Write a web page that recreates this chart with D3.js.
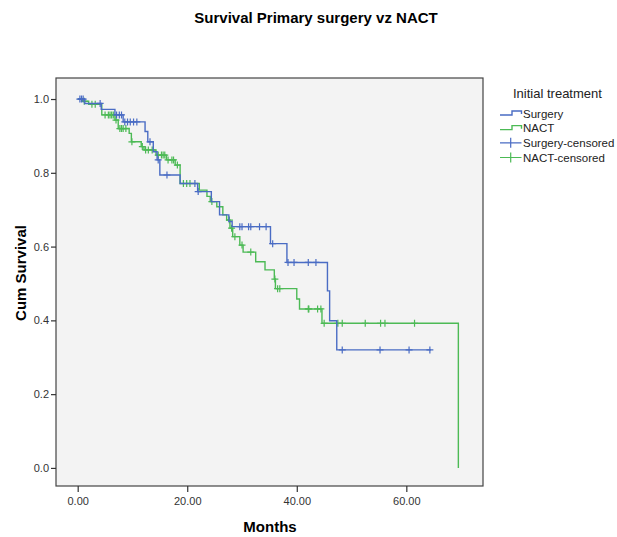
<!DOCTYPE html>
<html>
<head>
<meta charset="utf-8">
<script src="https://cdn.jsdelivr.net/npm/d3@7"></script>
<style>
  body { margin: 0; background: #fff; }
  svg { display: block; font-family: Arial, "Liberation Sans", sans-serif; }
</style>
</head>
<body>
<svg id="chart" width="617" height="537"></svg>
<script>
// Kaplan-Meier steps: [months, survival after the drop]
const surgeryEvents = [
  [1.3, 0.988], [4.3, 0.972], [6.8, 0.957], [8.3, 0.938], [12.3, 0.912],
  [12.8, 0.884], [13.8, 0.857], [14.5, 0.835], [15.0, 0.794], [18.7, 0.771],
  [21.9, 0.749], [24.4, 0.722], [25.9, 0.686], [27.6, 0.668], [28.2, 0.654],
  [35.2, 0.608], [38.2, 0.557], [45.6, 0.48], [46.0, 0.399], [47.3, 0.32]
];
const surgeryEnd = 64.5;
const surgeryCensored = [
  [0.4, 1], [0.7, 1], [1.0, 1], [4.1, 0.988], [7.1, 0.957], [7.6, 0.957],
  [8.0, 0.957], [8.6, 0.938], [9.1, 0.938], [9.6, 0.938], [10.2, 0.938],
  [10.8, 0.938], [13.2, 0.884], [14.7, 0.835], [16.3, 0.794], [21.4, 0.771],
  [22.0, 0.749], [29.6, 0.654], [30.0, 0.654], [31.2, 0.654], [31.6, 0.654],
  [33.2, 0.654], [34.4, 0.654], [35.6, 0.608], [38.4, 0.557], [39.5, 0.557],
  [42.1, 0.557], [43.5, 0.557], [48.3, 0.32], [55.2, 0.32], [60.5, 0.32],
  [64.3, 0.32]
];

const nactEvents = [
  [0.9, 0.994], [2.0, 0.986], [4.4, 0.957], [6.8, 0.943], [7.4, 0.92],
  [9.4, 0.907], [9.8, 0.884], [11.6, 0.871], [12.1, 0.862], [14.3, 0.848],
  [16.2, 0.835], [17.8, 0.821], [18.7, 0.771], [22.2, 0.753], [23.6, 0.736],
  [24.2, 0.722], [25.4, 0.708], [26.5, 0.686], [27.2, 0.672], [27.8, 0.65],
  [28.3, 0.627], [29.6, 0.604], [30.2, 0.585], [32.5, 0.559], [34.2, 0.537],
  [35.9, 0.512], [36.1, 0.486], [40.0, 0.458], [40.5, 0.431], [44.6, 0.392],
  [69.5, 0.0]
];
const nactEnd = 69.5;
const nactCensored = [
  [1.2, 0.994], [2.6, 0.986], [3.2, 0.986], [5.0, 0.957], [5.6, 0.957],
  [5.9, 0.957], [6.2, 0.957], [6.5, 0.957], [7.0, 0.943], [7.7, 0.92],
  [8.0, 0.92], [8.3, 0.92], [8.8, 0.92], [9.9, 0.884], [11.8, 0.871],
  [12.4, 0.862], [12.9, 0.862], [13.6, 0.862], [14.7, 0.848], [15.3, 0.848],
  [15.6, 0.848], [15.9, 0.848], [16.5, 0.835], [17.2, 0.835], [17.5, 0.835],
  [18.2, 0.821], [19.3, 0.771], [19.9, 0.771], [20.5, 0.771], [24.5, 0.722],
  [27.7, 0.672], [28.1, 0.65], [28.7, 0.627], [30.0, 0.604], [31.6, 0.585],
  [36.0, 0.512], [36.5, 0.486], [36.9, 0.486], [42.1, 0.431], [42.2, 0.431],
  [43.8, 0.431], [44.4, 0.431], [45.0, 0.392], [47.5, 0.392], [48.3, 0.392],
  [52.5, 0.392], [55.3, 0.392], [56.1, 0.392], [61.5, 0.392]
];

const xTicks = [0, 20, 40, 60];
const yTicks = [0, 0.2, 0.4, 0.6, 0.8, 1.0];
const legendLabels = ["Surgery", "NACT", "Surgery-censored", "NACT-censored"];

const BLUE = "#4a6cc4";
const GREEN = "#4cba55";

const svg = d3.select("#chart");
const plot = { left: 56, right: 483, top: 78, bottom: 486 };

const x = d3.scaleLinear().domain([-3.96, 74.0]).range([plot.left, plot.right]);
const y = d3.scaleLinear().domain([-0.049, 1.057]).range([plot.bottom, plot.top]);

// title
svg.append("text")
  .attr("x", 316).attr("y", 23)
  .attr("text-anchor", "middle")
  .style("font-size", "15px").style("font-weight", "bold")
  .text("Survival Primary surgery vz NACT");

// plot background + frame
svg.append("rect")
  .attr("x", plot.left).attr("y", plot.top)
  .attr("width", plot.right - plot.left).attr("height", plot.bottom - plot.top)
  .attr("fill", "#f3f3f3").attr("stroke", "#444").attr("stroke-width", 1.2);

// axes
const yAxis = svg.append("g")
  .attr("transform", `translate(${plot.left},0)`)
  .call(d3.axisLeft(y).tickValues(yTicks).tickFormat(d3.format(".1f")).tickSize(5).tickPadding(2));
const xAxis = svg.append("g")
  .attr("transform", `translate(0,${plot.bottom})`)
  .call(d3.axisBottom(x).tickValues(xTicks).tickFormat(d3.format(".2f")).tickSize(6).tickPadding(5));
[xAxis, yAxis].forEach(g => {
  g.select(".domain").remove();
  g.selectAll("line").attr("stroke", "#333").attr("stroke-width", 1.2);
  g.selectAll("text").style("font-size", "11px").attr("fill", "#333")
    .style("font-family", "Arial, 'Liberation Sans', sans-serif");
});

// axis titles
svg.append("text")
  .attr("x", 270).attr("y", 532)
  .attr("text-anchor", "middle")
  .style("font-size", "15px").style("font-weight", "bold")
  .text("Months");
svg.append("text")
  .attr("transform", "translate(26,273) rotate(-90)")
  .attr("text-anchor", "middle")
  .style("font-size", "15px").style("font-weight", "bold")
  .text("Cum Survival");

// build step points from events
function stepPoints(events, end) {
  let pts = [[0, 1]];
  let prev = 1;
  events.forEach(([t, s]) => {
    pts.push([t, prev]);
    pts.push([t, s]);
    prev = s;
  });
  if (end > events[events.length - 1][0]) pts.push([end, prev]);
  return pts;
}

const line = d3.line().x(d => x(d[0])).y(d => y(d[1]));

function drawGroup(events, end, censored, color) {
  svg.append("path")
    .attr("d", line(stepPoints(events, end)))
    .attr("fill", "none")
    .attr("stroke", color)
    .attr("stroke-width", 1.4);

  svg.append("g").selectAll("path")
    .data(censored)
    .enter()
    .append("path")
    .attr("d", d => {
      let cx = x(d[0]), cy = y(d[1]);
      return `M${cx - 3.5},${cy}H${cx + 3.5}M${cx},${cy - 3.5}V${cy + 3.5}`;
    })
    .attr("fill", "none")
    .attr("stroke", color)
    .attr("stroke-width", 1.2);
}

drawGroup(nactEvents, nactEnd, nactCensored, GREEN);
drawGroup(surgeryEvents, surgeryEnd, surgeryCensored, BLUE);

// legend
const legend = svg.append("g");
legend.append("text")
  .attr("x", 513).attr("y", 98)
  .style("font-size", "13px").attr("fill", "#222")
  .text("Initial treatment");

const legendColors = [BLUE, GREEN, BLUE, GREEN];
const rowY = d3.scaleLinear().domain([0, 3]).range([113.5, 157.5]);

legendLabels.forEach((label, i) => {
  let cy = rowY(i);
  let color = legendColors[i];
  if (i < 2) {
    legend.append("path")
      .attr("d", `M500,${cy + 1.5}H512V${cy - 2.5}H521.5V${cy + 0.5}`)
      .attr("fill", "none").attr("stroke", color).attr("stroke-width", 1.4);
  } else {
    legend.append("path")
      .attr("d", `M500,${cy}H521.5M510.7,${cy - 5}V${cy + 5}`)
      .attr("fill", "none").attr("stroke", color).attr("stroke-width", 1.2);
  }
  legend.append("text")
    .attr("x", 523).attr("y", cy + 4)
    .style("font-size", "11.5px").attr("fill", "#222")
    .text(label);
});
</script>
</body>
</html>
